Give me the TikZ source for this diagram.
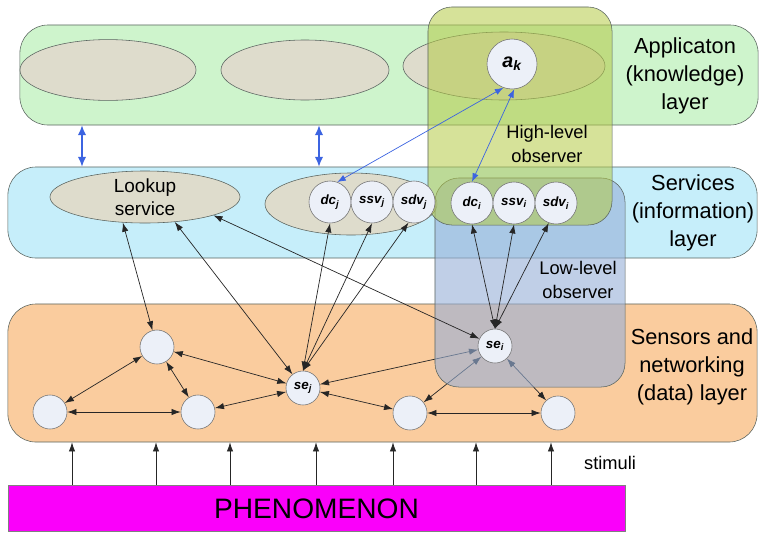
\documentclass[tikz,border=0pt]{standalone}
\usepackage{fontspec}
\setmainfont{Liberation Sans}
\usepackage{xcolor}
\usetikzlibrary{shapes, arrows.meta}

\definecolor{appgreen}{RGB}{206,244,204}
\definecolor{infocyan}{RGB}{198,238,250}
\definecolor{dataorange}{RGB}{250,204,158}
\definecolor{ellgray}{RGB}{222,220,204}
\definecolor{nodegray}{RGB}{236,240,248}
\definecolor{hiolive}{RGB}{180,202,70}
\definecolor{loblue}{RGB}{150,175,215}
\definecolor{phenpink}{RGB}{250,0,250}
\definecolor{linkblue}{RGB}{60,100,225}
\definecolor{edgegray}{RGB}{90,100,95}

\pgfdeclarelayer{bg}
\pgfdeclarelayer{obs}
\pgfsetlayers{bg,obs,main}

\begin{document}
\begin{tikzpicture}[x=0.025cm, y=-0.025cm, node distance=1.05cm]

\tikzstyle{band} = [rectangle, rounded corners=0.7cm, draw=edgegray, inner sep=0]
\tikzstyle{service} = [ellipse, draw=edgegray, fill=ellgray, inner sep=0, text centered]
\tikzstyle{observer} = [rectangle, rounded corners=0.6cm, draw=edgegray, inner sep=0]
\tikzstyle{sensor} = [circle, draw=black!55, fill=nodegray, inner sep=0, minimum size=0.85cm, font=\fontsize{9.5}{11}\selectfont\bfseries\itshape]
\tikzstyle{varnode} = [sensor, minimum size=1.05cm]
\tikzstyle{bandlabel} = [align=center, font=\fontsize{15.5}{20}\selectfont]
\tikzstyle{obslabel} = [align=center, font=\fontsize{13}{16.5}\selectfont]
\tikzstyle{link} = [<->, >={Latex[length=6.5pt,width=4.5pt]}, black!85, line width=0.5pt]
\tikzstyle{stim} = [->, >={Latex[length=6.5pt,width=4.5pt]}, black!85, line width=0.5pt]
\tikzstyle{uplink} = [<->, >={Latex[length=7pt,width=6pt]}, linkblue, line width=1.1pt]
\tikzstyle{obslink} = [<->, >={Latex[length=6pt,width=4.5pt]}, linkblue, line width=0.5pt]

\useasboundingbox (0,0) rectangle (760,533);

\begin{pgfonlayer}{bg}
\node (app) [band, fill=appgreen, minimum width=18.45cm, minimum height=2.5cm] at (389,75) {};
\node (info) [band, fill=infocyan, minimum width=18.725cm, minimum height=2.275cm] at (382.5,212.5) {};
\node (data) [band, fill=dataorange, minimum width=18.725cm, minimum height=3.45cm] at (382.5,373) {};
\node (phen) [rectangle, draw=black!50, fill=phenpink, minimum width=15.425cm, minimum height=1.15cm, font=\fontsize{20}{24}\selectfont] at (316.5,508.5) {PHENOMENON};

\node (app1) [service, minimum width=4.4cm, minimum height=1.52cm] at (108,70) {};
\node (app2) [service, minimum width=4.2cm, minimum height=1.5cm] at (305,70) {};
\node (app3) [service, minimum width=5.05cm, minimum height=1.7cm] at (504,66) {};
\node (lookup) [service, minimum width=4.75cm, minimum height=1.3cm, align=center, font=\fontsize{13.5}{16}\selectfont] at (145,197) {Lookup\\service};
\node (svcj) [service, minimum width=4.3cm, minimum height=1.55cm] at (351,204) {};
\end{pgfonlayer}

% observers
\begin{pgfonlayer}{obs}
\node (low) [observer, fill=loblue, fill opacity=0.6, minimum width=4.75cm, minimum height=5.225cm] at (530,282.5) {};
\node (high) [observer, fill=hiolive, fill opacity=0.55, minimum width=4.6cm, minimum height=5.45cm] at (520,116) {};
\end{pgfonlayer}

\node (ak) [varnode, minimum size=1.25cm, font=\fontsize{14}{16}\selectfont\bfseries\itshape] at (512,64) {a\textsubscript{k}};
\node (dcj) [varnode] at (330,202) {dc\textsubscript{j}};
\node (ssvj) [varnode, right of=dcj] {ssv\textsubscript{j}};
\node (sdvj) [varnode, right of=ssvj] {sdv\textsubscript{j}};
\node (dci) [varnode] at (472,203) {dc\textsubscript{i}};
\node (ssvi) [varnode, right of=dci] {ssv\textsubscript{i}};
\node (sdvi) [varnode, right of=ssvi] {sdv\textsubscript{i}};

\node (sej) [sensor] at (303,388) {se\textsubscript{j}};
\node (sei) [sensor] at (495,346) {se\textsubscript{i}};
\node (s1) [sensor] at (157,347) {};
\node (s2) [sensor] at (50,412) {};
\node (s3) [sensor] at (198,412) {};
\node (s4) [sensor] at (410,413) {};
\node (s5) [sensor] at (558,413) {};

\node (applabel) [bandlabel] at (685,76) {Applicaton\\(knowledge)\\layer};
\node (infolabel) [bandlabel] at (693,213) {Services\\(information)\\layer};
\node (datalabel) [bandlabel] at (692,367) {Sensors and\\networking\\(data) layer};
\node (hilabel) [obslabel] at (547,144) {High-level\\observer};
\node (lolabel) [obslabel] at (578,280) {Low-level\\observer};
\node (stimlabel) [font=\fontsize{13}{15}\selectfont] at (610,463) {stimuli};

% links under the low-level observer
\begin{pgfonlayer}{bg}
\draw [link] (sej) -- (sei);
\draw [link] (sei) -- (s4);
\draw [link] (sei) -- (s5);
\end{pgfonlayer}

\foreach \x in {82,319}
  \draw [uplink] (app.south -| \x,0) -- (info.north -| \x,0);
\foreach \x in {72,156,230,316,393,476,551}
  \draw [stim] (phen.north -| \x,0) -- (data.south -| \x,0);

\draw [obslink] (ak.250) -- (dcj.70);
\draw [obslink] (ak.275) -- (dci.north);

\draw [link] (s1) -- (lookup.229);
\draw [link] (sej) -- (lookup.320);
\draw [link] (sei) -- (lookup.345);
\draw [link] (sej.north) -- (dcj.south);
\draw [link] (sej.north) -- (ssvj.south);
\draw [link] (sej.north) -- (sdvj.255);
\draw [link] (sei.north) -- (dci.south);
\draw [link] (sei.north) -- (ssvi.south);
\draw [link] (sei.north) -- (sdvi.250);

\draw [link] (s1) -- (s2);
\draw [link] (s1) -- (s3);
\draw [link] (s2) -- (s3);
\draw [link] (s1) -- (sej);
\draw [link] (s3) -- (sej);
\draw [link] (sej) -- (s4);
\draw [link] (s4) -- (s5);
\end{tikzpicture}
\end{document}
